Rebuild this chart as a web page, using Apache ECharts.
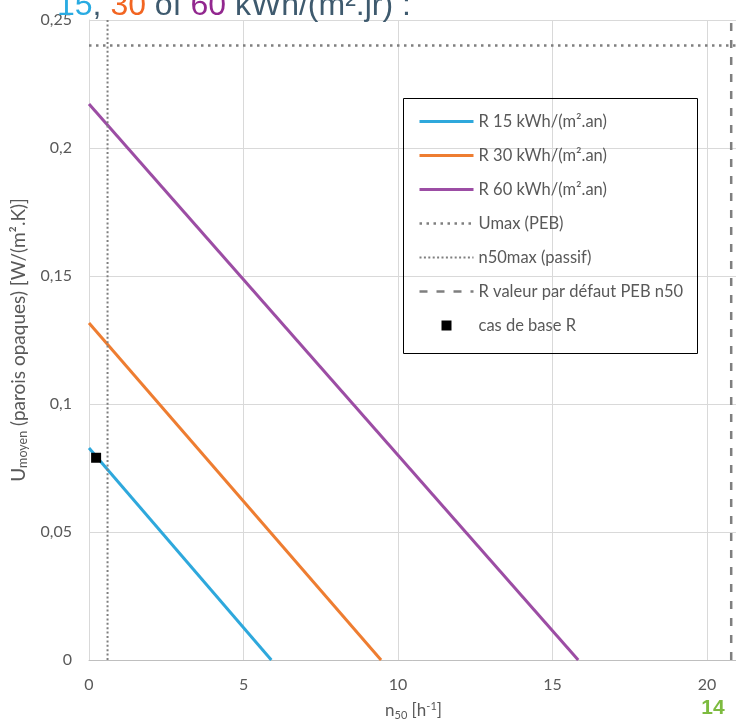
<!DOCTYPE html>
<html>
<head>
<meta charset="utf-8">
<script src="https://cdn.jsdelivr.net/npm/echarts@6/dist/echarts.min.js"></script>
<style>html,body{margin:0;padding:0;background:#fff}#c{width:736px;height:722px}</style>
</head>
<body>
<div id="c"></div>
<script>
// Data
const seriesNames = ['R 15 kWh/(m².an)', 'R 30 kWh/(m².an)', 'R 60 kWh/(m².an)', 'Umax (PEB)', 'n50max (passif)', 'R valeur par défaut PEB n50', 'cas de base R'];
const r15 = [[0, 0.0828], [5.9, 0]];
const r30 = [[0, 0.1316], [9.45, 0]];
const r60 = [[0, 0.2172], [15.83, 0]];
const umaxPEB = [[0, 0.24], [21, 0.24]];
const n50maxPassif = [[0.6, 0], [0.6, 0.25]];
const rDefaultPEB = [[20.78, 0], [20.78, 0.25]];
const baseCase = [[0.23, 0.079]];
const xTicks = [0, 5, 10, 15, 20];
const yTicks = [0, 0.05, 0.1, 0.15, 0.2, 0.25];

const gray = '#595959';
const font = 'Lato';
const chart = echarts.init(document.getElementById('c'));
const lineSeries = (name, data, color, width, type) => ({
  name, type: 'line', data, symbol: 'none', silent: true, animation: false,
  lineStyle: { color, width, type }, itemStyle: { color }
});
const hideSym = { opacity: 0 };
chart.setOption({
  animation: false,
  grid: { left: 89, right: -2, top: 20, bottom: 62, outerBoundsMode: 'none', containLabel: false },
  xAxis: {
    type: 'value', min: 0, max: 21, interval: 5,
    axisLine: { show: true, lineStyle: { color: '#bfbfbf', width: 1 } },
    axisTick: { show: false },
    splitLine: { show: true, lineStyle: { color: '#d9d9d9', width: 1 } },
    axisLabel: { color: gray, fontFamily: font, fontSize: 16, margin: 17,
      formatter: v => xTicks.includes(v) ? String(v) : '' },
    name: '{a|n}{s|50}{a| [h}{p|-1}{a|]}',
    nameLocation: 'middle', nameGap: 41,
    nameTextStyle: { rich: {
      a: { fontFamily: font, fontSize: 17, color: gray, lineHeight: 20, verticalAlign: 'middle' },
      s: { fontFamily: font, fontSize: 11, color: gray, lineHeight: 20, verticalAlign: 'bottom', padding: [8, 0, 0, 0] },
      p: { fontFamily: font, fontSize: 11, color: gray, lineHeight: 20, verticalAlign: 'top', padding: [0, 0, 6, 0] }
    } }
  },
  yAxis: {
    type: 'value', min: 0, max: 0.25, interval: 0.05,
    axisLine: { show: true, lineStyle: { color: '#d9d9d9', width: 1 } },
    axisTick: { show: false },
    splitLine: { show: true, lineStyle: { color: '#d9d9d9', width: 1 } },
    axisLabel: { color: gray, fontFamily: font, fontSize: 16, margin: 17,
      formatter: v => String(+v.toFixed(2)).replace('.', ',') },
    name: '{a|U}{s|moyen}{a| (parois opaques) [W/(m².K)]}',
    nameLocation: 'middle', nameGap: 55, nameRotate: 90,
    nameTextStyle: { rich: {
      a: { fontFamily: font, fontSize: 19, color: gray, lineHeight: 22, verticalAlign: 'middle' },
      s: { fontFamily: font, fontSize: 12.5, color: gray, lineHeight: 22, verticalAlign: 'bottom', padding: [9, 0, 0, 0] }
    } }
  },
  legend: {
    orient: 'vertical', left: 418, top: 113,
    itemWidth: 54, itemHeight: 14, itemGap: 17, padding: 0,
    textStyle: { color: gray, fontFamily: font, fontSize: 16.5, lineHeight: 14 },
    data: [
      { name: seriesNames[0], lineStyle: { width: 3 }, itemStyle: hideSym },
      { name: seriesNames[1], lineStyle: { width: 3 }, itemStyle: hideSym },
      { name: seriesNames[2], lineStyle: { width: 3 }, itemStyle: hideSym },
      { name: seriesNames[3], lineStyle: { width: 2.5 }, itemStyle: hideSym },
      { name: seriesNames[4], lineStyle: { width: 2 }, itemStyle: hideSym },
      { name: seriesNames[5], lineStyle: { width: 2.5 }, itemStyle: hideSym },
      { name: seriesNames[6], icon: 'path://M-2 -2M0 0h10v10h-10zM12 12', itemStyle: { opacity: 1 } }
    ]
  },
  graphic: [
    { type: 'rect', silent: true, shape: { x: 403.5, y: 98.5, width: 294, height: 255 },
      style: { fill: 'none', stroke: '#000', lineWidth: 1 }, z: 10 },
    { type: 'text', silent: true, x: 57, y: 6, z: 10,
      style: { text: '{b|15}{g|, }{o|30}{g| of }{p|60}{g| kWh/(m².jr) :}', verticalAlign: 'middle',
        rich: {
          b: { fontFamily: 'Liberation Sans', fontSize: 32, fill: '#29abe2' },
          g: { fontFamily: 'Liberation Sans', fontSize: 32, fill: '#3e5a6e' },
          o: { fontFamily: 'Liberation Sans', fontSize: 32, fill: '#f26522' },
          p: { fontFamily: 'Liberation Sans', fontSize: 32, fill: '#92278f' }
        } } },
    { type: 'text', silent: true, x: 713, y: 708, z: 10,
      style: { text: '14', fontFamily: 'Liberation Sans', fontWeight: 'bold', fontSize: 21,
        fill: '#7dbb3f', align: 'center', verticalAlign: 'middle' } }
  ],
  series: [
    lineSeries(seriesNames[0], r15, '#2ea8dc', 3, 'solid'),
    lineSeries(seriesNames[1], r30, '#ee7d31', 3, 'solid'),
    lineSeries(seriesNames[2], r60, '#9c4da4', 3, 'solid'),
    lineSeries(seriesNames[3], umaxPEB, '#7f7f7f', 2.5, [2.5, 4.5]),
    lineSeries(seriesNames[4], n50maxPassif, '#7f7f7f', 2, [2, 2.4]),
    lineSeries(seriesNames[5], rDefaultPEB, '#7f7f7f', 2.5, [8, 9]),
    { name: seriesNames[6], type: 'scatter', data: baseCase, symbol: 'rect', symbolSize: 10,
      itemStyle: { color: '#000', opacity: 1 }, silent: true, z: 5 }
  ]
});
</script>
</body>
</html>
